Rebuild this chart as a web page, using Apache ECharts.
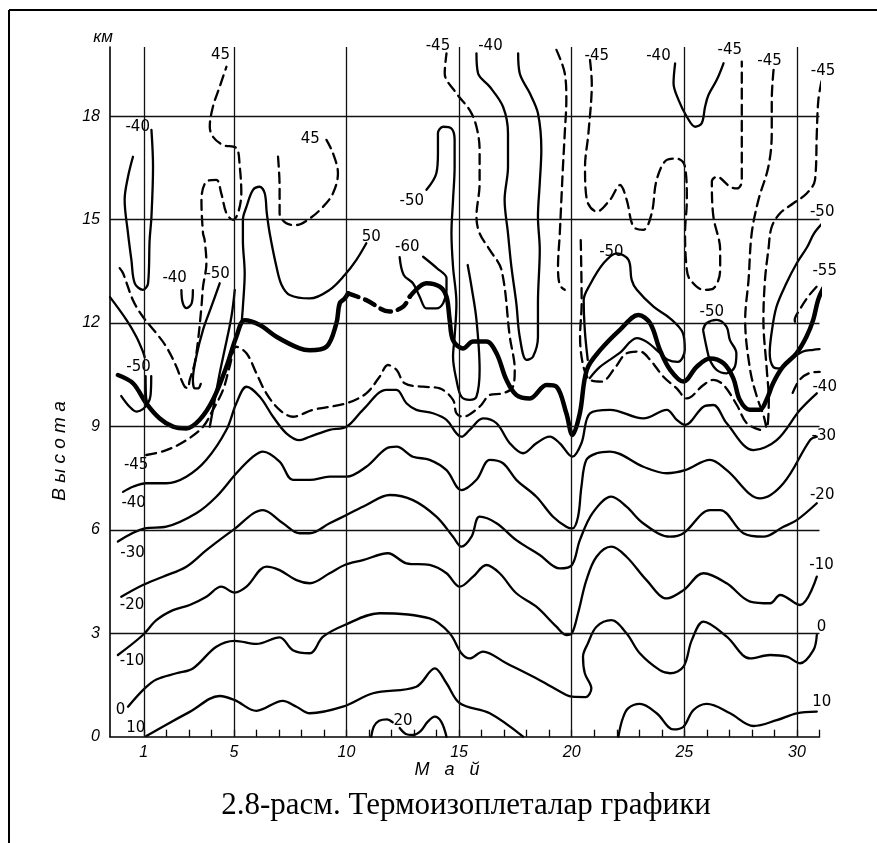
<!DOCTYPE html>
<html><head><meta charset="utf-8">
<script src="https://cdn.jsdelivr.net/npm/echarts@6/dist/echarts.min.js"></script>
<style>html,body{margin:0;padding:0;background:#fff}#c{width:877px;height:843px}</style>
</head><body><div id="c"></div>
<script>
// ---- axes ----
const majorDays = [1, 5, 10, 15, 20, 25, 30];
const dayTicks = [1,2,3,4,5,6,7,8,9,10,11,12,13,14,15,16,17,18,19,20,21,22,23,24,25,26,27,28,29,30,31];
const heightLabels = [0, 3, 6, 9, 12, 15, 18];
const heightLines = [3, 6, 9, 12, 15, 18];

// ---- isotherms [day, km] ----
const iso10a = [[1.11,0.02],[2.0,0.35],[3.04,0.72],[4.37,1.18],[5.04,1.06],[6.0,0.75],[7.17,1.04],[7.78,0.87],[8.37,0.68],[9.84,0.87],[11.18,1.26],[13.1,1.45],[13.92,1.98],[14.44,1.55],[15.03,0.97],[16.36,0.68],[17.84,0]];
const iso10b = [[22.07,0],[22.25,0.5],[22.5,0.82],[23.03,0.95],[23.77,0.68],[24.52,0.21],[24.96,0.29],[25.4,0.77],[26.0,0.95],[27.03,0.68],[28.07,0.31],[29.1,0.48],[29.99,0.68],[30.88,0.73]];
const iso20a = [[11.1,0],[11.22,0.3],[11.45,0.46],[11.8,0.5],[12.05,0.42]];
const iso20b = [[12.36,0.25],[12.63,0.08],[12.94,0.05],[13.3,0.17],[13.6,0.43],[13.92,0.58],[14.21,0.43],[14.44,0]];
const iso0 = [[0.3,0.87],[1.04,1.4],[1.56,1.66],[2.45,1.84],[3.18,1.98],[4.22,2.61],[5.04,2.78],[6.0,2.69],[7.03,2.88],[7.62,2.51],[8.37,2.42],[8.96,2.9],[9.92,3.24],[11.47,3.58],[13.69,3.43],[14.58,3.0],[15.1,2.42],[15.47,2.27],[16.06,2.47],[17.1,2.13],[18.58,1.64],[19.76,1.21],[20.02,1.16],[20.62,1.15],[20.87,1.4],[20.58,1.84],[20.5,2.32],[20.72,2.71],[21.1,3.19],[21.76,3.38],[22.43,3.0],[23.02,2.42],[23.91,1.93],[24.37,1.84],[24.96,2.03],[25.33,2.8],[25.85,3.34],[26.88,2.9],[27.92,2.27],[28.81,2.37],[29.55,2.32],[30.14,2.13],[30.73,2.51],[30.88,2.95]];
const isoM10 = [[-0.15,2.37],[0.96,2.95],[1.56,3.38],[2.3,3.67],[3.04,3.82],[3.78,4.06],[4.44,4.35],[5.04,4.18],[5.56,4.35],[6.44,4.93],[7.03,4.83],[7.78,4.54],[8.37,4.45],[9.25,4.74],[9.92,4.98],[10.73,5.12],[11.84,5.32],[12.66,5.03],[13.69,4.98],[14.44,4.74],[15.03,4.35],[15.62,4.64],[16.21,4.98],[16.8,4.74],[17.54,4.16],[18.43,3.77],[19.32,3.19],[19.76,2.95],[20.01,3.0],[20.28,3.58],[20.65,4.54],[21.1,5.22],[21.76,5.51],[22.43,5.22],[23.32,4.54],[24.22,4.01],[24.96,4.25],[25.85,4.74],[26.88,4.45],[27.92,3.92],[28.81,3.87],[29.25,4.11],[30.14,3.82],[30.88,4.64]];
const isoM20 = [[0.0,4.06],[0.96,4.4],[1.85,4.64],[2.89,4.93],[3.78,5.41],[4.96,5.99],[6.29,6.57],[7.18,6.19],[7.92,5.9],[8.37,5.9],[9.25,6.19],[10.0,6.43],[10.88,6.72],[11.92,7.01],[12.95,6.86],[13.99,6.38],[14.73,5.8],[15.1,5.51],[15.55,5.8],[15.91,6.38],[16.66,6.19],[17.54,5.7],[18.58,5.27],[19.47,4.88],[20.01,4.98],[20.36,5.7],[20.93,6.49],[21.76,6.96],[22.43,6.67],[23.17,6.19],[24.36,5.8],[24.96,5.9],[26.14,6.57],[26.59,6.57],[27.62,5.9],[28.51,5.8],[29.4,6.09],[29.99,6.28],[30.88,6.77]];
const isoM30 = [[-0.15,5.66],[1.04,6.04],[2.0,6.09],[3.33,6.48],[4.22,6.96],[5.11,7.64],[5.85,8.12],[6.29,8.27],[7.03,7.98],[7.62,7.45],[8.37,7.45],[9.25,7.54],[10.0,7.54],[10.88,7.83],[11.77,8.36],[12.22,8.41],[12.95,8.12],[13.69,8.03],[14.44,7.73],[15.1,7.15],[15.77,7.45],[16.36,8.03],[16.95,7.93],[17.54,7.45],[18.43,6.96],[19.17,6.38],[19.76,6.09],[20.03,6.04],[20.28,6.38],[20.43,7.25],[20.65,8.03],[21.1,8.22],[21.7,8.27],[23.18,7.83],[24.22,7.64],[25.03,7.73],[26.14,8.03],[26.88,7.73],[28.36,6.91],[29.4,7.35],[30.58,8.6],[30.88,8.7]];
const isoM40 = [[0.08,7.1],[0.52,7.25],[1.11,7.35],[2.0,7.35],[2.89,7.54],[3.78,8.03],[4.67,8.9],[5.11,9.67],[5.56,10.15],[6.15,9.86],[6.74,9.28],[7.33,8.8],[7.92,8.6],[8.37,8.7],[9.25,8.9],[10.0,8.99],[10.73,9.48],[11.77,10.06],[12.22,10.06],[12.66,9.67],[13.1,9.48],[13.84,9.38],[14.44,9.19],[14.88,8.8],[15.1,8.7],[15.47,8.9],[16.06,9.23],[16.66,9.09],[17.25,8.51],[17.84,8.22],[18.43,8.51],[19.02,8.7],[19.47,8.51],[20.03,8.12],[20.43,8.51],[20.81,9.38],[21.7,9.48],[23.18,9.23],[24.22,9.48],[24.66,9.19],[25.03,9.04],[25.85,9.57],[26.29,9.62],[26.88,9.09],[28.07,8.31],[29.1,8.6],[30.14,9.48],[30.88,9.96]];
const isoM45 = [[1.11,8.17],[2.0,8.31],[2.89,8.6],[3.63,8.99],[4.07,9.48],[4.52,10.06],[4.81,10.73],[5.11,11.31],[5.56,11.12],[6.0,10.54],[6.44,9.96],[7.03,9.48],[7.62,9.28],[8.51,9.48],[10.0,9.67],[10.88,9.96],[11.47,10.44],[11.84,10.78],[12.22,10.64],[12.58,10.25],[13.4,10.15],[14.14,10.1],[14.73,9.77],[14.88,9.38],[15.17,9.28],[15.91,9.57],[16.36,9.91],[16.95,9.96],[17.39,10.15],[17.47,10.64],[17.25,11.6],[16.88,13.54],[16.36,14.12],[15.91,14.6],[15.77,15.08],[15.91,16.05],[15.91,17.01],[15.77,17.69],[15.47,18.17],[14.88,18.66],[14.36,19.24],[14.44,19.82]];
const isoM45right = [[20.4,14.4],[20.44,12.58],[20.37,11.6],[20.52,10.73],[20.81,10.35],[21.33,10.3],[21.91,10.69],[22.44,11.12],[23.03,11.17],[23.48,10.93],[24.07,10.44],[24.66,10.1],[25.11,9.81],[25.85,10.2],[26.29,10.35],[26.74,10.2],[27.33,9.62],[27.77,9.09],[28.36,8.9]];
const isoM45tail = [[29.81,9.97],[30.12,10.35],[30.57,10.55],[31.01,10.58]];

// tropopause (thick)
const tropA = [[-0.15,10.49],[0.52,10.25],[1.11,9.67],[1.71,9.23],[2.3,8.99],[2.89,8.94],[3.48,9.19],[4.07,9.77],[4.67,10.73],[5.11,11.6],[5.48,12.08],[6.15,11.94],[6.89,11.6],[7.92,11.26],[8.37,11.21],[9.11,11.31],[9.55,11.99],[9.7,12.57],[9.92,12.71],[10.07,12.86]];
const tropB = [[10.07,12.86],[10.88,12.66],[11.92,12.33],[12.51,12.47],[12.81,12.76]];
const tropC = [[12.81,12.76],[13.55,13.15],[14.14,13.05],[14.44,12.76],[14.58,12.09],[14.73,11.5],[15.17,11.26],[15.62,11.46],[16.21,11.46],[16.66,11.12],[17.1,10.35],[17.54,9.91],[18.14,9.81],[18.88,10.2],[19.32,10.15],[19.76,9.38],[20.03,8.75],[20.36,9.38],[20.67,10.64],[21.26,11.21],[22.14,11.8],[22.96,12.23],[23.48,11.99],[23.92,11.21],[24.37,10.64],[24.96,10.3],[25.55,10.73],[26.14,10.97],[26.74,10.83],[27.17,10.4],[27.46,9.77],[27.9,9.48],[28.35,9.48],[28.65,9.77],[28.94,10.25],[29.38,10.73],[29.98,11.12],[30.42,11.6],[30.72,12.09],[30.94,12.67],[31.16,13.0]];

// upper-air isotherms
const upM40a = [[0.52,16.82],[0.3,16.24],[0.15,15.57],[0.3,14.6],[0.45,13.83],[0.6,13.15],[0.96,12.96],[1.19,13.15],[1.26,14.41],[1.34,15.08],[1.41,16.53],[1.34,17.6]];
const upLeftEdge = [[-0.5,12.75],[0.23,12.09],[0.67,11.6],[0.96,11.17],[1.04,11.01]];
const upM50a = [[0.0,9.88],[0.37,9.57],[0.67,9.43],[0.96,9.5],[1.19,9.68],[1.3,9.9],[1.33,10.46]];
const upM50b = [[1.08,10.46],[1.1,9.85],[1.17,9.66]];
const up45a = [[-0.07,13.59],[0.08,13.44],[0.52,12.66],[0.96,12.18],[1.56,11.7],[2.0,11.31],[2.45,10.73],[2.67,10.35],[2.82,10.15],[2.95,10.11],[3.04,10.35],[3.26,10.83],[3.41,11.5],[3.56,12.47],[3.63,13.05],[3.78,13.73],[3.7,14.41],[3.63,14.6],[3.56,15.57],[3.78,16.1],[4.22,16.15],[4.44,15.76],[4.67,15.18],[4.96,14.99],[5.18,15.18],[5.33,15.76],[5.26,16.53],[5.11,17.07],[4.52,17.16],[4.07,17.4],[3.93,17.69],[4.07,18.27],[4.37,18.85],[4.67,19.43]];
const upM50c = [[3.93,8.99],[4.37,10.54],[4.59,11.22],[4.89,12.18],[5.04,12.96]];
const upM50d = [[4.37,13.15],[4.0,12.47],[3.63,11.8],[3.33,11.02],[3.18,10.35],[3.26,10.1],[3.41,10.1],[3.53,10.23]];
const upLoop = [[2.67,12.95],[2.73,12.58],[2.9,12.43],[3.13,12.58],[3.18,12.95]];
const up50 = [[5.35,12.05],[5.4,12.47],[5.48,13.44],[5.4,14.4],[5.4,14.99],[5.56,15.37],[5.85,15.86],[6.15,15.95],[6.37,15.76],[6.46,15.19],[6.59,14.6],[6.89,13.63],[7.12,13.1],[7.48,12.81],[8.37,12.71],[9.25,12.96],[9.92,13.39],[10.44,13.83],[10.88,14.31]];
const up45b = [[6.96,16.82],[7.03,15.95],[7.03,15.18],[7.33,14.89],[7.78,14.84],[8.37,15.03],[8.96,15.37],[9.4,15.76],[9.62,16.34],[9.4,16.92],[9.11,17.31]];
const upM50e = [[13.55,15.86],[13.99,16.34],[14.06,16.92],[14.06,17.5],[14.29,17.69],[14.66,17.64],[14.8,17.31],[14.8,16.53],[14.73,15.57],[14.66,14.6],[14.73,13.63],[14.88,12.57],[14.8,11.6],[14.73,11.02],[14.88,10.35],[15.1,9.86],[15.47,9.77],[15.77,9.86],[15.91,10.64],[15.77,12.09],[15.55,13.05],[15.38,13.68]];
const upM60 = [[12.36,13.91],[12.54,13.39],[12.95,13.15],[13.25,12.76],[13.55,12.42],[13.99,12.42],[14.29,12.57],[14.44,12.96],[14.44,13.3],[14.01,13.59],[13.4,13.92]];
const upM40b = [[15.77,19.82],[15.84,19.24],[16.36,18.85],[16.95,18.27],[17.17,17.5],[17.17,16.53],[17.02,15.57],[17.17,14.6],[17.32,13.63],[17.54,12.57],[17.69,11.6],[17.99,10.93],[18.28,11.02],[18.5,11.6],[18.5,12.57],[18.58,14.12],[18.5,15.08],[18.58,16.05],[18.65,17.02],[18.5,18.08],[18.14,18.66],[17.69,19.24],[17.62,19.82]];
const upM45a = [[19.32,19.92],[19.69,19.24],[19.76,18.47],[19.69,17.5],[19.61,16.53],[19.54,15.57],[19.47,14.6],[19.39,13.63],[19.47,13.1],[19.69,12.96]];
const upM45b = [[20.81,19.63],[20.89,18.95],[20.74,17.5],[20.59,16.53],[20.67,15.57],[21.11,15.23],[21.7,15.57],[22.14,16.0],[22.44,15.57],[22.74,14.79],[23.18,14.7],[23.55,15.18],[23.77,16.15],[24.22,16.73],[24.66,16.77],[25.03,16.53],[25.11,15.57],[25.03,14.6],[25.11,13.54],[25.26,13.25],[25.85,12.96],[26.29,13.0],[26.59,13.54],[26.59,14.12],[26.29,15.08],[26.22,16.1],[26.44,16.24],[27.03,15.95],[27.33,15.9],[27.55,16.1],[27.55,17.89],[27.55,19.58]];
const upM40c = [[24.59,19.53],[24.52,18.95],[24.74,18.47],[25.11,17.98],[25.48,17.69],[25.77,17.79],[25.92,18.27],[26.07,18.61],[26.44,19.05],[26.74,19.53]];
const upM45c = [[28.96,19.34],[28.88,18.46],[28.88,17.5],[28.73,16.53],[28.29,15.57],[27.99,14.6],[27.85,13.25],[27.7,12.09],[27.92,10.64],[28.22,9.86],[28.51,9.33],[28.66,8.95],[28.75,9.77],[28.66,10.64],[28.51,12.09],[28.58,13.25],[28.73,14.12],[28.88,14.79],[29.25,15.18],[29.84,15.47],[30.44,15.76],[30.8,16.15],[30.88,17.5],[30.95,18.47],[31.1,19.04]];
const upM55 = [[30.87,13.05],[30.49,12.76],[30.12,12.38],[29.9,12.09],[29.98,11.89]];
const upM50f = [[31.2,14.94],[30.76,14.6],[30.46,14.21],[29.99,13.73],[29.53,13.15],[29.09,12.47],[28.87,11.7],[28.79,11.12],[28.94,10.73],[29.24,10.68],[29.68,10.93],[30.27,11.17],[30.72,11.22],[31.0,11.24]];
const upM50g = [[25.83,11.8],[25.98,11.99],[26.43,12.09],[26.87,11.89],[27.02,11.51],[27.31,11.12],[27.24,10.73],[26.87,10.54],[26.43,10.64],[26.13,10.93],[25.98,11.31],[25.83,11.8]];
const upM50h = [[20.71,10.93],[20.58,11.79],[20.53,12.66],[20.8,13.1],[21.41,13.73],[22.0,14.02],[22.52,13.83],[22.66,13.25],[22.89,12.96],[23.63,12.47],[24.35,12.14],[24.93,11.71],[25.02,11.22],[24.71,10.87],[24.26,10.93],[23.91,11.13],[23.33,11.45],[22.89,11.56],[22.13,11.13],[21.24,10.72],[20.8,10.4]];

// isotherm labels [text, day, km]
const labelTexts = ['-40','-40','-50','-50','-45','-40','-30','-20','-10','0','10','45','45','50','-60','-50','-45','-40','-45','-40','-45','-45','-45','-50','-55','-50','-50','-40','-30','-20','-10','0','10','20'];
const labelDays  = [0.73,2.37,4.28,0.77,0.66,0.55,0.5,0.48,0.48,-0.03,0.64,4.41,8.39,11.1,12.7,12.9,14.06,16.39,21.11,23.85,27.02,28.78,31.16,31.12,31.23,21.76,26.22,31.23,31.19,31.12,31.09,31.09,31.1,12.51];
const labelKm    = [17.68,13.3,13.42,10.72,7.88,6.78,5.33,3.82,2.18,0.77,0.25,19.77,17.33,14.48,14.19,15.54,20.04,20.04,19.74,19.75,19.92,19.6,19.29,15.2,13.51,14.04,12.32,10.15,8.72,7.01,4.98,3.19,0.99,0.44];

const INK = '#000';
const thinLines = [iso10a, iso10b, iso20a, iso20b, iso0, isoM10, isoM20, isoM30, isoM40, upM40a, upLeftEdge, upM50a, upM50b, upM50c, upM50d, upLoop, up50, upM50e, upM60, upM40b, upM40c, upM50f, upM50g, upM50h];
const dashedLines = [isoM45, isoM45right, isoM45tail, up45a, up45b, upM45a, upM45b, upM45c, upM55];
const thickLines = [tropA, tropC];
const thickDashed = [tropB];

function mk(data, width, type) {
  return { type: 'line', data: data, smooth: 0.35, symbol: 'none', clip: false, silent: true,
    animation: false, lineStyle: { color: INK, width: width, type: type, cap: 'round', join: 'round' } };
}
const series = [];
series.push({
  type: 'line', data: [], silent: true, animation: false, symbol: 'none',
  markLine: { silent: true, symbol: ['none', 'none'], animation: false, label: { show: false },
    lineStyle: { color: '#111', width: 1.3, type: 'solid' },
    emphasis: { disabled: true },
    data: majorDays.map(d => ({ xAxis: d })).concat(heightLines.map(h => ({ yAxis: h }))) }
});
thinLines.forEach(d => series.push(mk(d, 2.3, 'solid')));
dashedLines.forEach(d => series.push(mk(d, 2.3, [10, 6])));
thickLines.forEach(d => series.push(mk(d, 4.5, 'solid')));
thickDashed.forEach(d => series.push(mk(d, 4.5, [11, 7])));
series.push({
  type: 'scatter', clip: false, silent: true, animation: false, symbolSize: 1,
  itemStyle: { color: 'rgba(255,255,255,0)' },
  data: labelTexts.map((t, i) => ({ name: t, value: [labelDays[i], labelKm[i]] })),
  label: { show: true, position: 'inside', formatter: p => p.name, color: '#000',
    fontSize: 15, fontFamily: 'DejaVu Sans', textBorderWidth: 0, opacity: 1 }
});

const chart = echarts.init(document.getElementById('c'), null, { renderer: 'canvas' });
chart.setOption({
  backgroundColor: '#fff',
  animation: false,
  grid: { left: 110, top: 47.1, width: 709.5, height: 689.6 },
  xAxis: {
    type: 'value', min: -0.5, max: 31,
    axisLine: { show: true, onZero: false, lineStyle: { color: '#000', width: 1.6 } },
    axisTick: { show: true, inside: true, length: 7, customValues: dayTicks, lineStyle: { color: '#000', width: 1.3 } },
    axisLabel: { show: true, customValues: majorDays, margin: 8, color: '#000', fontSize: 16,
      fontStyle: 'italic', fontFamily: 'Liberation Sans' },
    splitLine: { show: false }
  },
  yAxis: {
    type: 'value', min: 0, max: 20,
    axisLine: { show: true, onZero: false, lineStyle: { color: '#000', width: 1.6 } },
    axisTick: { show: false },
    axisLabel: { show: true, customValues: heightLabels, margin: 10, color: '#000', fontSize: 16,
      fontStyle: 'italic', fontFamily: 'Liberation Sans' },
    splitLine: { show: false }
  },
  graphic: [
    { type: 'line', shape: { x1: 9, y1: 10, x2: 877, y2: 10 }, style: { stroke: '#000', lineWidth: 2 } },
    { type: 'line', shape: { x1: 9, y1: 10, x2: 9, y2: 843 }, style: { stroke: '#000', lineWidth: 2 } },
    { type: 'text', x: 103, y: 37, style: { text: 'км', fontSize: 17, fontStyle: 'italic', fontFamily: 'Liberation Sans',
      fill: '#000', align: 'center', verticalAlign: 'middle', textAlign: 'center', textVerticalAlign: 'middle' } },
    { type: 'text', x: 60, y: 451, rotation: Math.PI / 2, style: { text: 'В ы с о т а', fontSize: 19, fontStyle: 'italic',
      fontFamily: 'Liberation Sans', fill: '#000', align: 'center', verticalAlign: 'middle', textAlign: 'center', textVerticalAlign: 'middle' } },
    { type: 'text', x: 447, y: 770, style: { text: 'М   а   й', fontSize: 18, fontStyle: 'italic', fontFamily: 'Liberation Sans',
      fill: '#000', align: 'center', verticalAlign: 'middle', textAlign: 'center', textVerticalAlign: 'middle' } },
    { type: 'text', x: 466, y: 806, style: { text: '2.8-расм. Термоизоплеталар графики', fontSize: 31,
      fontFamily: 'Liberation Serif', fill: '#000', align: 'center', verticalAlign: 'middle', textAlign: 'center', textVerticalAlign: 'middle' } }
  ],
  series: series
});
</script></body></html>
